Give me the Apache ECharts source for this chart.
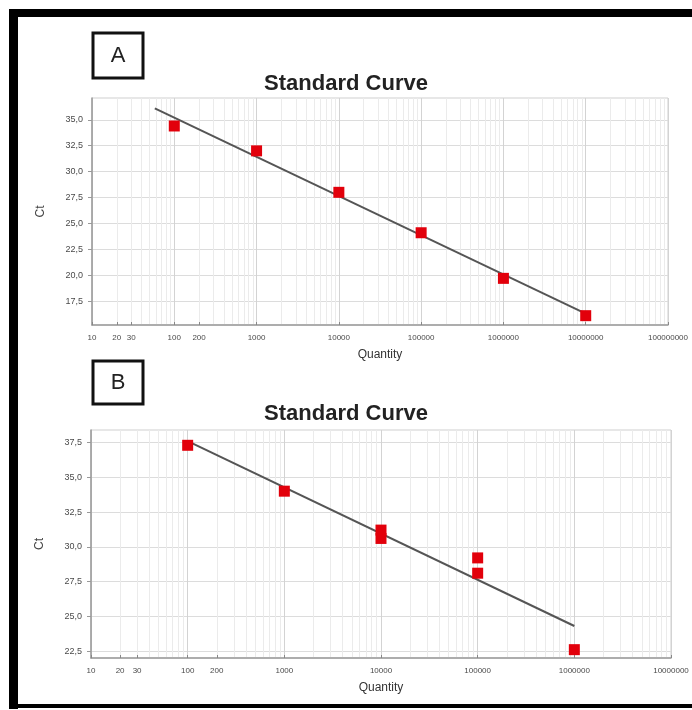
<!DOCTYPE html>
<html>
<head>
<meta charset="utf-8">
<script src="https://cdn.jsdelivr.net/npm/echarts@6/dist/echarts.min.js"></script>
<style>
html,body{margin:0;padding:0;background:#fff;}
#chart{width:692px;height:710px;}
</style>
</head>
<body>
<div id="chart"></div>
<script>
// ---- Data ----
var qtyA = [100, 1000, 10000, 100000, 1000000, 10000000];
var ctA  = [34.4, 32.0, 28.0, 24.1, 19.7, 16.1];
var fitQtyA = [58, 10000000];
var fitCtA  = [36.1, 16.3];

var qtyB = [100, 1000, 10000, 10000, 100000, 100000, 1000000];
var ctB  = [37.3, 34.0, 31.2, 30.6, 29.2, 28.1, 22.6];
var fitQtyB = [100, 1000000];
var fitCtB  = [37.6, 24.3];

var xTicksA = [10, 20, 30, 100, 200, 1000, 10000, 100000, 1000000, 10000000, 100000000];
var xTicksB = [10, 20, 30, 100, 200, 1000, 10000, 100000, 1000000, 10000000];
var yTicksA = [17.5, 20.0, 22.5, 25.0, 27.5, 30.0, 32.5, 35.0];
var yTicksB = [22.5, 25.0, 27.5, 30.0, 32.5, 35.0, 37.5];

var titleText = 'Standard Curve';
var xName = 'Quantity';
var yName = 'Ct';

// ---- helpers ----
function pairs(xs, ys){ return xs.map(function(x,i){ return [x, ys[i]]; }); }
function minorLogs(d0, d1){
  var out = [];
  for (var d = d0; d < d1; d++) for (var k = 2; k <= 9; k++) out.push(Math.log10(k * Math.pow(10, d)));
  return out;
}
var FONT = 'Liberation Sans, Arial, sans-serif';
var yFmt = function(v){ return v.toFixed(1).replace('.', ','); };
var xFmt = function(v){ return String(Math.round(Math.pow(10, v))); };

function xAxesFor(gridIndex, maxQ, ticks){
  var dMax = Math.log10(maxQ);
  var logTicks = ticks.map(function(t){ return Math.log10(t); });
  return [
    { // data axis (log scale)
      type: 'log', logBase: 10, gridIndex: gridIndex, min: 10, max: maxQ,
      name: xName, nameLocation: 'middle', nameGap: 24,
      nameTextStyle: {fontFamily: FONT, fontSize: 12, color: '#333'},
      axisLine: {show: true, onZero: false, lineStyle: {color: '#9a9a9a', width: 1.5}},
      axisTick: {show: false}, axisLabel: {show: false},
      splitLine: {show: true, lineStyle: {color: '#d3d3d3', width: 1}}
    },
    { // label axis (tick positions in log space)
      type: 'value', gridIndex: gridIndex, min: 1, max: dMax, position: 'bottom',
      axisLine: {show: false},
      axisTick: {show: true, inside: true, length: 3, customValues: logTicks, lineStyle: {color: '#888'}},
      axisLabel: {show: true, customValues: logTicks, formatter: xFmt, fontFamily: FONT, fontSize: 8, color: '#4a4a4a', margin: 9},
      splitLine: {show: false}
    },
    { // minor grid lines
      type: 'value', gridIndex: gridIndex, min: 1, max: dMax, position: 'bottom',
      axisLine: {show: false},
      axisTick: {show: false, customValues: minorLogs(1, dMax)},
      axisLabel: {show: false},
      splitLine: {show: true, lineStyle: {color: '#ebebeb', width: 1}}
    }
  ];
}
function yAxisFor(gridIndex, mn, mx, ticks){
  return {
    type: 'value', gridIndex: gridIndex, min: mn, max: mx,
    name: yName, nameLocation: 'middle', nameGap: 45, nameRotate: 90,
    nameTextStyle: {fontFamily: FONT, fontSize: 12, color: '#444'},
    axisLine: {show: true, lineStyle: {color: '#9a9a9a', width: 1.5}},
    axisTick: {show: true, length: 4, customValues: ticks, lineStyle: {color: '#999'}},
    axisLabel: {customValues: ticks, formatter: yFmt, fontFamily: FONT, fontSize: 9, color: '#4a4a4a', margin: 9},
    splitLine: {show: true, lineStyle: {color: '#dcdcdc', width: 1}}
  };
}

var chart = echarts.init(document.getElementById('chart'), null, {renderer: 'canvas'});
var option = {
  animation: false,
  backgroundColor: '#fff',
  title: [
    {text: titleText, left: 'center', top: 68, textStyle: {fontFamily: FONT, fontSize: 22, fontWeight: 'bold', color: '#222'}},
    {text: titleText, left: 'center', top: 398, textStyle: {fontFamily: FONT, fontSize: 22, fontWeight: 'bold', color: '#222'}}
  ],
  grid: [
    {left: 92, right: 24, top: 98, height: 227, show: true, borderColor: '#cfcfcf', borderWidth: 1, backgroundColor: 'transparent'},
    {left: 91, right: 21, top: 430, height: 228, show: true, borderColor: '#cfcfcf', borderWidth: 1, backgroundColor: 'transparent'}
  ],
  xAxis: xAxesFor(0, 100000000, xTicksA).concat(xAxesFor(1, 10000000, xTicksB)),
  yAxis: [yAxisFor(0, 15.2, 37.1, yTicksA), yAxisFor(1, 22.0, 38.4, yTicksB)],
  series: [
    {type: 'line', xAxisIndex: 0, yAxisIndex: 0, data: pairs(fitQtyA, fitCtA), symbol: 'none',
     lineStyle: {color: '#555', width: 2}, z: 2},
    {type: 'scatter', xAxisIndex: 0, yAxisIndex: 0, data: pairs(qtyA, ctA), symbol: 'rect', symbolSize: 11,
     itemStyle: {color: '#e2000b', opacity: 1}, z: 3},
    {type: 'line', xAxisIndex: 3, yAxisIndex: 1, data: pairs(fitQtyB, fitCtB), symbol: 'none',
     lineStyle: {color: '#555', width: 2}, z: 2},
    {type: 'scatter', xAxisIndex: 3, yAxisIndex: 1, data: pairs(qtyB, ctB), symbol: 'rect', symbolSize: 11,
     itemStyle: {color: '#e2000b', opacity: 1}, z: 3}
  ],
  graphic: [
    // outer black frame (left, top, bottom)
    {type: 'rect', shape: {x: 9, y: 9, width: 9, height: 700}, style: {fill: '#000'}},
    {type: 'rect', shape: {x: 9, y: 9, width: 683, height: 8}, style: {fill: '#000'}},
    {type: 'rect', shape: {x: 9, y: 704, width: 683, height: 4}, style: {fill: '#000'}},
    // panel labels
    {type: 'rect', shape: {x: 93, y: 33, width: 50, height: 45}, style: {fill: '#fff', stroke: '#111', lineWidth: 3}},
    {type: 'text', x: 118, y: 56, style: {text: 'A', font: '22px ' + FONT, fill: '#222', align: 'center', verticalAlign: 'middle'}},
    {type: 'rect', shape: {x: 93, y: 361, width: 50, height: 43}, style: {fill: '#fff', stroke: '#111', lineWidth: 3}},
    {type: 'text', x: 118, y: 383, style: {text: 'B', font: '22px ' + FONT, fill: '#222', align: 'center', verticalAlign: 'middle'}}
  ]
};
chart.setOption(option);
</script>
</body>
</html>
